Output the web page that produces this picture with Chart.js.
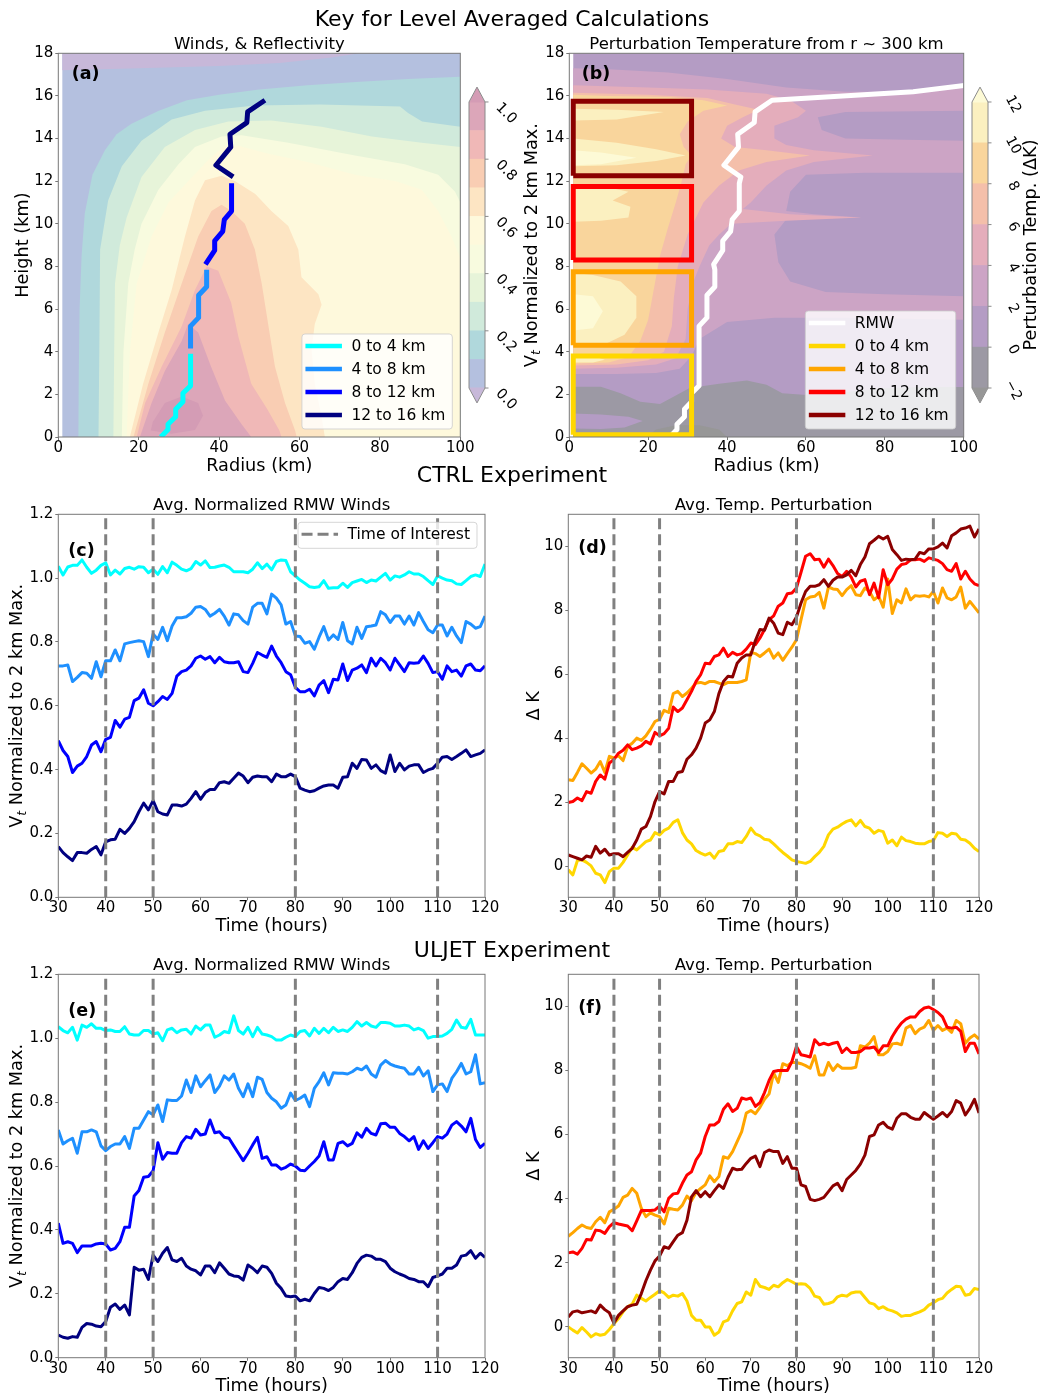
<!DOCTYPE html>
<html>
<head>
<meta charset="utf-8">
<title>Key for Level Averaged Calculations</title>
<script src="https://cdn.jsdelivr.net/npm/chart.js@4.4.1/dist/chart.umd.min.js"></script>
<style>
  html, body { margin: 0; padding: 0; background: #ffffff; }
  body { position: relative; width: 1053px; height: 1397px; overflow: hidden; font-family: "DejaVu Sans", sans-serif; }
  canvas { position: absolute; }
  .heading { position: absolute; left: 0; width: 1024px; text-align: center; font-size: 22px; line-height: 22px; color: #000; white-space: nowrap; z-index: 5; }
</style>
</head>
<body>
<div class="heading" style="top:7.5px">Key for Level Averaged Calculations</div>
<div class="heading" style="top:464px">CTRL Experiment</div>
<div class="heading" style="top:939px">ULJET Experiment</div>
<script>
const FONT = '"DejaVu Sans", sans-serif';

// ---------------- data ----------------
// model hours
const hours = [30,31,32,33,34,35,36,37,38,39,40,41,42,43,44,45,46,47,48,49,
  50,51,52,53,54,55,56,57,58,59,60,61,62,63,64,65,66,67,68,69,
  70,71,72,73,74,75,76,77,78,79,80,81,82,83,84,85,86,87,88,89,
  90,91,92,93,94,95,96,97,98,99,100,101,102,103,104,105,106,107,108,109,
  110,111,112,113,114,115,116,117,118,119,120];

const timesOfInterest = [40, 50, 80, 110];

// CTRL: layer-averaged Vt at the RMW, normalised by the 2 km maximum
const ctrlWind0to4 = [1.037,1.01,1.035,1.04,1.04,1.057,1.034,1.015,1.025,1.04,
  1.048,1.01,1.025,1.013,1.03,1.034,1.028,1.036,1.034,1.017,
  1.028,1.012,1.036,1.017,1.05,1.04,1.028,1.023,1.03,1.052,
  1.041,1.054,1.033,1.034,1.038,1.041,1.034,1.02,1.02,1.02,
  1.017,1.028,1.048,1.03,1.044,1.026,1.052,1.057,1.055,1.02,
  1.007,0.994,0.984,0.973,0.971,0.973,0.992,0.968,0.97,0.97,
  0.984,0.971,0.986,0.991,0.996,0.986,0.994,0.991,1.003,1.015,
  0.994,1.007,1.003,1.01,1.02,1.013,1.013,1.005,0.992,0.98,
  1.007,1.0,0.994,0.992,0.982,0.98,0.992,1.005,1.01,1.005,1.044];
const ctrlWind4to8 = [0.725,0.725,0.728,0.676,0.689,0.704,0.702,0.686,0.738,0.691,
  0.741,0.741,0.775,0.741,0.794,0.798,0.801,0.804,0.801,0.754,
  0.825,0.808,0.846,0.804,0.85,0.876,0.876,0.879,0.89,0.909,
  0.911,0.902,0.881,0.89,0.902,0.881,0.853,0.888,0.885,0.867,
  0.856,0.909,0.921,0.921,0.888,0.95,0.937,0.916,0.856,0.864,
  0.819,0.817,0.796,0.801,0.777,0.815,0.848,0.806,0.822,0.808,
  0.861,0.804,0.794,0.846,0.811,0.848,0.85,0.853,0.895,0.885,
  0.861,0.881,0.881,0.856,0.881,0.853,0.892,0.864,0.838,0.829,
  0.853,0.853,0.819,0.846,0.819,0.798,0.864,0.856,0.843,0.848,0.881];
const ctrlWind8to12 = [0.491,0.46,0.441,0.391,0.411,0.42,0.441,0.477,0.488,0.456,
  0.495,0.501,0.554,0.533,0.558,0.564,0.616,0.624,0.65,0.608,
  0.6,0.613,0.629,0.62,0.639,0.693,0.707,0.712,0.725,0.749,
  0.756,0.746,0.754,0.735,0.752,0.738,0.735,0.735,0.738,0.707,
  0.704,0.733,0.767,0.759,0.752,0.787,0.756,0.735,0.707,0.697,
  0.658,0.644,0.644,0.652,0.631,0.665,0.679,0.641,0.683,0.681,
  0.731,0.679,0.712,0.718,0.728,0.704,0.749,0.725,0.749,0.735,
  0.712,0.749,0.728,0.707,0.735,0.733,0.735,0.756,0.733,0.704,
  0.707,0.683,0.725,0.707,0.712,0.693,0.725,0.731,0.712,0.71,0.725];
const ctrlWind12to16 = [0.159,0.14,0.127,0.115,0.14,0.14,0.138,0.15,0.159,0.133,
  0.174,0.18,0.182,0.213,0.2,0.216,0.237,0.268,0.295,0.274,
  0.303,0.268,0.261,0.258,0.289,0.289,0.286,0.292,0.31,0.331,
  0.307,0.328,0.338,0.338,0.359,0.362,0.357,0.373,0.389,0.38,
  0.359,0.376,0.38,0.378,0.378,0.362,0.386,0.378,0.378,0.386,
  0.378,0.342,0.336,0.331,0.334,0.342,0.349,0.352,0.352,0.342,
  0.376,0.378,0.42,0.404,0.432,0.43,0.404,0.415,0.397,0.389,
  0.446,0.394,0.42,0.399,0.411,0.415,0.415,0.391,0.399,0.404,
  0.42,0.439,0.441,0.432,0.441,0.451,0.462,0.441,0.446,0.451,0.462];

// CTRL: layer-averaged temperature perturbation (K)
const ctrlTemp0to4 = [-0.1,-0.26,0.19,0.21,0.13,0.02,-0.21,-0.26,-0.5,-0.16,
  -0.05,-0.05,0.13,0.36,0.6,0.52,0.65,0.78,0.83,1.06,
  0.99,1.13,1.2,1.38,1.46,1.06,0.83,0.71,0.5,0.42,
  0.36,0.42,0.26,0.47,0.5,0.71,0.71,0.78,0.75,0.94,
  1.2,1.02,0.96,0.85,0.83,0.71,0.57,0.44,0.33,0.21,
  0.16,0.13,0.1,0.16,0.31,0.44,0.63,0.99,1.17,1.23,
  1.33,1.41,1.46,1.27,1.44,1.25,1.2,1.04,1.13,1.09,
  0.73,0.83,0.65,0.92,0.81,0.78,0.73,0.71,0.71,0.78,
  0.81,1.06,1.04,0.94,1.04,1.02,0.85,0.83,0.73,0.57,0.47];
const ctrlTemp4to8 = [2.71,2.69,2.94,3.21,3.07,2.92,3.04,3.28,2.94,3.44,
  3.39,3.46,3.31,3.75,3.85,4.01,3.94,4.08,4.29,4.53,
  4.6,4.88,4.81,5.4,5.47,5.31,5.42,5.57,5.73,5.75,
  5.71,5.78,5.78,5.73,5.68,5.75,5.75,5.75,5.78,5.83,
  6.69,6.65,6.56,6.67,6.79,6.51,6.67,6.44,6.65,6.85,
  7.08,7.71,8.33,8.42,8.44,8.56,8.07,8.73,8.67,8.65,
  8.46,8.65,8.77,8.49,8.46,8.7,8.59,8.33,8.44,8.1,
  8.98,7.9,8.33,8.23,8.67,8.33,8.46,8.44,8.46,8.42,
  8.59,8.23,8.7,8.39,8.33,8.42,8.73,8.07,8.28,8.1,7.92];
const ctrlTemp8to12 = [2.0,2.03,2.14,2.06,2.34,2.29,2.66,2.86,2.73,3.23,
  3.35,3.54,3.63,3.8,3.65,3.7,3.77,3.91,3.83,4.19,
  4.08,4.15,4.32,4.98,4.84,4.95,5.21,5.47,5.78,5.99,
  6.35,6.33,6.56,6.61,6.82,6.56,6.69,6.61,6.65,6.79,
  6.98,6.93,7.14,7.4,7.71,7.83,8.13,8.23,8.52,8.54,
  8.7,9.19,9.69,9.77,9.58,9.6,9.35,9.6,9.4,9.15,
  9.06,9.22,9.04,8.73,8.91,8.96,8.49,8.85,8.39,9.27,
  8.8,8.98,9.29,9.43,9.46,9.58,9.58,9.6,9.53,9.64,
  9.6,9.56,9.46,9.27,9.22,9.46,8.98,9.22,8.98,8.83,8.77];
const ctrlTemp12to16 = [0.36,0.31,0.26,0.21,0.33,0.29,0.63,0.42,0.54,0.36,
  0.4,0.4,0.31,0.44,0.57,0.83,1.17,1.25,1.56,2.03,
  2.34,2.27,2.66,2.66,2.94,2.97,3.35,3.49,3.7,4.01,
  4.48,4.58,4.84,5.4,5.78,5.94,5.92,6.35,6.51,6.61,
  6.61,7.06,7.4,7.38,7.76,7.6,7.29,7.24,7.63,7.55,
  7.79,8.23,8.59,8.75,8.75,8.8,8.96,8.75,8.94,9.04,
  9.04,9.11,9.25,9.08,9.43,9.67,10.08,10.19,10.31,10.23,
  10.31,9.9,9.74,9.56,9.6,9.58,9.6,9.81,9.77,9.92,
  9.92,9.98,10.1,9.95,10.33,10.42,10.54,10.57,10.63,10.29,10.54];

// ULJET: layer-averaged Vt at the RMW, normalised by the 2 km maximum
const uljetWind0to4 = [1.036,1.024,1.017,1.034,0.994,1.041,1.034,1.045,1.031,1.031,
  1.024,1.026,1.021,1.021,1.036,1.013,1.01,1.01,1.024,1.024,
  1.013,1.017,0.992,1.026,1.031,1.017,1.026,1.028,1.013,1.038,
  1.026,1.041,1.041,1.003,1.01,1.021,1.017,1.07,1.024,1.013,
  1.034,1.005,1.034,1.013,1.01,1.005,0.994,0.994,1.003,1.01,
  1.005,1.021,1.024,1.007,1.031,1.015,1.031,1.017,1.034,1.021,
  1.026,1.021,1.034,1.052,1.038,1.049,1.038,1.034,1.049,1.049,
  1.047,1.038,1.038,1.041,1.038,1.026,1.031,1.024,1.0,1.005,
  1.005,1.007,1.015,1.028,1.057,1.034,1.031,1.059,1.01,1.01,1.01];
const uljetWind4to8 = [0.713,0.669,0.679,0.687,0.64,0.707,0.707,0.713,0.707,0.663,
  0.648,0.661,0.669,0.669,0.692,0.655,0.718,0.718,0.744,0.77,
  0.76,0.791,0.739,0.807,0.805,0.805,0.819,0.869,0.83,0.882,
  0.848,0.867,0.885,0.83,0.85,0.882,0.869,0.888,0.843,0.817,
  0.857,0.817,0.878,0.871,0.83,0.812,0.801,0.781,0.791,0.828,
  0.805,0.812,0.822,0.786,0.843,0.864,0.892,0.854,0.892,0.89,
  0.89,0.888,0.895,0.906,0.901,0.913,0.888,0.878,0.916,0.93,
  0.919,0.913,0.909,0.906,0.888,0.888,0.909,0.882,0.898,0.833,
  0.854,0.857,0.833,0.874,0.895,0.921,0.888,0.895,0.948,0.857,0.861];
const uljetWind8to12 = [0.421,0.358,0.363,0.358,0.329,0.35,0.35,0.35,0.356,0.358,
  0.356,0.337,0.342,0.363,0.408,0.408,0.506,0.523,0.565,0.567,
  0.585,0.673,0.621,0.642,0.64,0.64,0.673,0.692,0.687,0.715,
  0.697,0.7,0.744,0.704,0.707,0.69,0.687,0.663,0.64,0.617,
  0.64,0.666,0.69,0.624,0.629,0.603,0.603,0.59,0.596,0.606,
  0.6,0.587,0.585,0.6,0.614,0.631,0.676,0.619,0.619,0.671,
  0.676,0.663,0.671,0.704,0.69,0.718,0.702,0.697,0.732,0.734,
  0.721,0.721,0.702,0.692,0.679,0.692,0.652,0.679,0.655,0.673,
  0.692,0.687,0.7,0.728,0.739,0.725,0.707,0.749,0.683,0.658,0.671];
const uljetWind12to16 = [0.071,0.064,0.061,0.066,0.064,0.095,0.107,0.105,0.099,0.097,
  0.113,0.158,0.168,0.151,0.165,0.134,0.283,0.274,0.277,0.245,
  0.321,0.301,0.327,0.345,0.306,0.301,0.311,0.287,0.277,0.272,
  0.259,0.287,0.287,0.266,0.297,0.28,0.262,0.256,0.254,0.243,
  0.29,0.28,0.266,0.287,0.283,0.264,0.233,0.217,0.193,0.191,
  0.193,0.178,0.183,0.178,0.201,0.22,0.217,0.21,0.22,0.238,
  0.248,0.245,0.266,0.295,0.314,0.321,0.318,0.308,0.308,0.301,
  0.28,0.269,0.262,0.256,0.248,0.245,0.238,0.238,0.222,0.251,
  0.256,0.262,0.28,0.28,0.29,0.318,0.321,0.335,0.311,0.327,0.314];

// ULJET: layer-averaged temperature perturbation (K)
const uljetTemp0to4 = [0.0,-0.1,-0.19,-0.02,-0.16,-0.31,-0.21,-0.26,-0.23,-0.08,
  0.1,0.26,0.47,0.63,0.71,0.99,0.89,0.81,0.92,1.02,
  1.13,1.06,0.92,0.99,0.96,1.04,0.81,0.36,0.21,0.21,
  0.0,0.0,-0.26,-0.16,0.16,0.21,0.5,0.73,0.78,1.09,
  0.99,1.48,1.27,1.23,1.17,1.3,1.25,1.38,1.48,1.41,
  1.33,1.35,1.33,1.2,0.96,0.92,0.71,0.73,0.78,0.94,
  0.99,0.96,1.06,1.09,1.09,0.92,0.75,0.71,0.57,0.63,
  0.54,0.5,0.44,0.33,0.36,0.36,0.42,0.47,0.54,0.68,
  0.75,0.85,0.89,1.06,1.17,1.27,1.25,0.99,1.02,1.2,1.17];
const uljetTemp4to8 = [2.83,2.94,3.07,3.18,3.1,3.07,3.28,3.42,3.25,3.59,
  3.67,3.77,4.04,4.11,4.32,4.17,3.7,3.44,3.56,3.49,
  3.44,3.21,3.7,3.67,3.65,3.8,4.08,3.94,4.19,4.32,
  4.43,4.71,4.53,4.69,5.31,5.26,5.47,5.78,6.09,6.67,
  6.75,6.65,6.85,7.1,7.27,7.92,7.63,8.21,8.15,8.25,
  8.25,8.21,8.15,8.07,8.46,7.86,7.86,8.25,8.0,8.18,
  8.07,8.07,8.07,8.1,8.77,8.73,8.85,9.06,8.49,8.49,
  8.59,8.83,8.85,8.8,9.32,9.4,9.15,9.29,9.35,9.56,
  9.25,9.4,9.25,9.32,9.19,9.56,9.46,8.85,9.01,9.11,8.98];
const uljetTemp8to12 = [2.31,2.34,2.27,2.45,2.73,2.71,3.02,3.0,2.92,3.13,
  3.25,3.21,3.18,3.15,3.0,3.31,3.63,3.63,3.63,3.65,
  3.77,3.59,4.01,4.15,4.17,4.48,4.74,4.84,5.21,5.42,
  5.94,6.3,6.3,6.41,6.79,6.96,6.72,6.82,7.14,7.1,
  7.14,6.88,7.0,7.31,7.69,7.97,8.0,8.0,8.0,8.28,
  8.75,8.49,8.46,8.42,8.96,8.8,8.85,8.8,8.85,8.88,
  8.56,8.7,8.56,8.56,8.59,8.7,8.7,8.73,8.56,8.77,
  8.77,9.06,9.29,9.48,9.6,9.67,9.67,9.84,9.95,9.98,
  9.9,9.81,9.67,9.35,9.32,9.35,9.22,8.59,8.85,8.85,8.52];
const uljetTemp12to16 = [0.31,0.47,0.5,0.44,0.47,0.5,0.44,0.68,0.54,0.44,
  0.12,0.36,0.5,0.63,0.68,0.71,1.04,1.44,1.77,2.06,
  2.21,2.5,2.45,2.66,2.86,2.94,3.33,4.06,4.25,4.06,
  4.22,4.06,4.25,4.43,4.32,4.67,4.95,4.9,4.92,5.1,
  5.26,5.33,5.0,5.44,5.52,5.47,5.47,5.1,5.31,4.95,
  4.95,4.43,4.38,3.98,3.94,3.98,4.04,4.22,4.4,4.48,
  4.25,4.6,4.74,4.88,5.08,5.36,5.94,5.99,6.3,6.38,
  6.23,6.17,6.51,6.65,6.65,6.54,6.48,6.48,6.69,6.58,
  6.48,6.58,6.69,6.56,6.72,7.06,6.98,6.61,6.82,7.1,6.67];

// averaging layers
const layerNames = ['0 to 4 km', '4 to 8 km', '8 to 12 km', '12 to 16 km'];
const layerBottom = [0, 4, 8, 12];
const layerTop = [4, 8, 12, 16];

// radius of maximum wind (km) against height (km)
const rmwRadius = [25.5,27.3,27.3,29.2,29.2,31,31,32.9,32.9,
  32.9,32.9,34.9,34.9,36.9,36.9,
  36.6,38.9,38.9,40.9,41.3,43.1,43.1,
  43.5,39.2,42.9,42.7,46.9,47.1,51.4,
  87.2,105];
const rmwHeight = [0,0.35,0.6,0.95,1.3,1.65,2.05,2.4,3.9,
  4.15,5.2,5.6,6.65,7.05,7.85,
  8.1,8.75,9.2,9.65,10.2,10.6,11.9,
  12.2,12.75,13.6,14.2,14.75,15.25,15.8,
  16.2,16.6];

// inner-core averaging boxes for the temperature cross-section
const boxRadius = [1, 31];
const boxBottom = [0.1, 4.3, 8.3, 12.25];
const boxTop = [3.8, 7.75, 11.75, 15.75];

// contour levels and colour bar ticks
const windLevels = [0, 0.1, 0.2, 0.3, 0.4, 0.5, 0.6, 0.7, 0.8, 0.9, 1.0];
const windTicks = [0, 0.2, 0.4, 0.6, 0.8, 1.0];
const windTickLabels = ['0.0', '0.2', '0.4', '0.6', '0.8', '1.0'];
const tempLevels = [-2, 0, 2, 4, 6, 8, 10, 12];
const tempTicks = [-2, 0, 2, 4, 6, 8, 10, 12];
const tempTickLabels = ['\u22122', '0', '2', '4', '6', '8', '10', '12'];

// normalised wind / reflectivity field: outline of each filled level (radius km, height km)
const fieldBox = [[1,0],[100,0],[100,18],[1,18]];
const windBelow0 = [[1,18],[1,17.2],[20,17.3],[40,17.4],[55,17.55],[68,17.8],[75,18]];
const windAbove01 = [[5,0],[5.1,3],[5.3,6],[5.8,8.5],[6.6,10.5],[8.5,12.3],[11.6,13.45],[14.5,14.2],[18.2,14.7],[25,15.3],[32,15.8],[40,16.05],[50,16.3],[62,16.5],[74,16.65],[87,16.8],[100,16.9],[100,0]];
const windAbove02 = [[10,0],[10.2,4],[10.4,8.8],[12.4,11.1],[15.8,12.7],[20.7,13.9],[28.2,14.9],[36.5,15.3],[49,15.55],[65,15.6],[85,15.5],[87,15.2],[90.5,14.8],[100,14.55],[100,0]];
const windAbove03 = [[13.7,0],[13.9,4],[14.1,7.2],[15.3,9],[17,10.3],[20.7,12.2],[26.5,13.6],[34,14.4],[42.3,14.8],[53,14.85],[65.5,14.55],[78,14.1],[90.4,13.8],[100,13.6],[100,0]];
const windAbove04 = [[15.8,0],[16.2,4],[17.4,7.2],[19,8.8],[20.7,10],[24.9,11.6],[29.9,12.8],[34,13.6],[40.6,14.1],[45.6,14.15],[57.2,13.8],[73.8,13.2],[86.2,12.8],[94.5,12.3],[98.7,11.5],[100,11.0],[100,0]];
const windAbove05 = [[17,0],[17.8,4],[19.5,7.2],[23.2,9.4],[27.4,11],[32.3,12.0],[37.3,13.0],[41,13.6],[45,13.65],[52,13.3],[62,12.9],[73.8,12.3],[84,12.0],[90.4,11.6],[94.5,10.6],[97.8,9.4],[100,8.4],[100,0]];
const windAbove06 = [[17.8,0],[21.1,2.5],[24.9,4.9],[28.2,6.9],[31.5,9.4],[34,11.1],[36.5,12.05],[40.6,12.25],[44,12.0],[49,11.4],[53,10.6],[57.2,9.9],[59.7,8.8],[60.5,7.5],[64.7,6.7],[65.5,6.2],[63.8,5.3],[63,4.1],[63.8,2.5],[65.5,0.95],[66.3,0]];
const windAbove07 = [[18.7,0],[22.4,2.5],[26.5,4.9],[30.7,7.2],[34.8,9.4],[38.1,10.6],[40.6,10.9],[43.1,10.6],[46.4,10],[48.9,8.8],[50.6,7.2],[52.2,5.3],[53.9,3.3],[56.4,1.6],[58.9,0.3],[59.3,0]];
const windAbove08 = [[19.5,0],[21.6,1.6],[25.7,3.3],[30.7,5.2],[34,6.9],[36.9,8.0],[39.8,7.8],[43,6.3],[44.8,4.7],[48,2.5],[52,1.3],[55,0.3],[55.5,0]];
const windAbove09 = [[20.3,0],[23.2,1.6],[26.5,3.1],[30.7,4.5],[32.3,5.3],[34.8,4.9],[38,3.3],[41.5,1.7],[45.6,0.6],[48,0]];
const windAbove10 = [[23,0.3],[23.5,0.7],[26.5,1.6],[30.7,1.9],[34.8,1.6],[36,1.0],[34,0.33],[28.2,0.15]];

// perturbation temperature field: outline of each filled level (radius km, height km)
const tempBelow0 = [[1,0],[1,2.36],[8,2.36],[13,2.05],[18,1.65],[23,1.55],[27,1.95],[30.5,2.3],[38,2.5],[45,2.65],[50,2.45],[54,2.05],[62,1.95],[72,2.15],[80,2.3],[90,2.35],[100,2.35],[100,0]];
const tempBelowM2 = [[19.6,0],[22,0.35],[27,0.55],[33,0.55],[38,0.35],[40,0]];
const tempShallowWarm = [[1,0.4],[8,0.38],[14,0.45],[18.6,0.75],[15,0.95],[8,1.05],[1,1.1]];
const tempAbove2 = [[1,2.95],[12,2.95],[22,3.0],[28,3.2],[31,3.8],[33,4.6],[40,5.4],[52,5.6],[70,5.6],[100,5.5],[100,6.6],[80,6.7],[65,6.8],[56,7.3],[53,8.2],[52,9.5],[55,10.2],[62,10.25],[74,10.3],[62,10.45],[55,10.6],[56,11.5],[60,12.3],[75,12.4],[100,12.4],[100,13.9],[85,13.95],[70,14.0],[64,14.4],[63,15.0],[70,15.25],[100,15.3],[100,16.5],[87,16.2],[70,16.2],[55,16.4],[40,16.8],[25,17.1],[10,17.25],[1,17.3]];
const tempAbove4 = [[1,3.2],[12,3.25],[22,3.4],[27,3.7],[29.5,4.6],[30,6],[31.5,7.3],[33,8],[35.5,9],[38,9.5],[41,10.0],[55,10.15],[74,10.3],[56,10.45],[44,10.7],[46,11],[50,11.8],[55,12.5],[62,12.9],[77,13.2],[62,13.45],[55,13.7],[52,14.0],[52,14.6],[58,15.0],[60,15.3],[56,15.8],[50,16.1],[35,16.3],[20,16.4],[1,16.5]];
const tempAbove6 = [[1,3.35],[12,3.4],[20,3.6],[24,4.0],[26,5.2],[26.5,6.5],[27.5,8],[30,9.5],[34,11],[38,11.8],[43,12.5],[50,12.9],[61,13.2],[50,13.45],[42,13.6],[38.5,14.0],[40,14.6],[44,15.0],[48,15.35],[42,15.6],[35,15.9],[20,16.05],[1,16.15]];
const tempAbove8 = [[1,3.45],[10,3.5],[15,3.75],[18,4.5],[20,5.5],[21.5,7],[23,8.5],[25,9.8],[27,11],[28.5,12],[29.5,12.8],[31,13.2],[29,13.6],[28,14.2],[30,14.8],[34,15.3],[40,15.55],[34,15.8],[25,15.95],[10,16.0],[1,16.05]];
const tempAbove10Low = [[1,3.5],[6,3.5],[9,3.62],[6,3.8],[1,3.85]];
const tempAbove10Mid = [[1,4.3],[9,4.35],[14,4.8],[17,5.6],[17,6.6],[13,7.3],[6,7.6],[1,7.7]];
const tempAbove10Upper = [[1,10.1],[8,10.15],[15,10.3],[15.5,10.8],[11,11.1],[15,11.5],[10,11.7],[1,11.8]];
const tempAbove10High = [[1,12.7],[12,12.75],[22,12.95],[29.5,13.2],[22,13.5],[12,13.8],[1,14.0]];
const tempAbove10Top = [[1,14.85],[12,14.9],[24,15.25],[12,15.35],[1,15.4]];
const tempAbove12High = [[1,12.75],[8,12.8],[17,13.1],[8,13.35],[1,13.45]];
const tempAbove12Mid = [[1,5.0],[6,5.1],[8.5,5.9],[6,6.6],[1,6.7]];

// ---------------- styles ----------------
const WIND_COLORS = ['#00ffff', '#1e90ff', '#0000ff', '#000080'];
const TEMP_COLORS = ['#ffd700', '#ffa500', '#ff0000', '#8b0000'];
const WIND_FILL = ['#b4c0df','#b0d8dc','#d0eadb','#e7f4d9','#f8fbdf','#fef9dc','#fde5c3','#f9cdb3','#f0b8b7','#dca6b9'];
const WIND_UNDER = '#c7b8d9', WIND_OVER = '#d49cb5';
const TEMP_FILL = ['#9c99a4','#b49cc4','#cca4c5','#e4adbb','#f4bfaa','#f9d59c','#fbf0c0'];
const TEMP_UNDER = '#979797', TEMP_OVER = '#fdfad6';
const MARK_COLOR = '#808080';
const AXIS_COLOR = '#777777';

// ---------------- plugins ----------------
function contourPlugin(layers) {
  return {
    id: 'contourFill',
    beforeDatasetsDraw(chart) {
      const ctx = chart.ctx, a = chart.chartArea, xs = chart.scales.x, ys = chart.scales.y;
      ctx.save();
      ctx.beginPath(); ctx.rect(a.left, a.top, a.right - a.left, a.bottom - a.top); ctx.clip();
      layers.forEach(layer => {
        ctx.fillStyle = layer.color;
        layer.shapes.forEach(shape => {
          ctx.beginPath();
          shape.forEach(([r, z], i) => {
            const px = xs.getPixelForValue(r), py = ys.getPixelForValue(z);
            if (i) ctx.lineTo(px, py); else ctx.moveTo(px, py);
          });
          ctx.closePath(); ctx.fill();
        });
      });
      ctx.restore();
    }
  };
}

function drawLegend(ctx, a, L) {
  ctx.font = '15.5px ' + FONT;
  const tw = Math.max(...L.items.map(it => ctx.measureText(it.label).width));
  const w = 49.5 + tw + 7, h = L.items.length * 23 + 3;
  const x0 = a.right - 8 - w, y0 = L.upper ? a.top + 8 : a.bottom - 8 - h;
  ctx.beginPath(); ctx.roundRect(x0, y0, w, h, 3);
  ctx.fillStyle = 'rgba(255,255,255,0.8)'; ctx.fill();
  ctx.strokeStyle = 'rgba(204,204,204,0.8)'; ctx.lineWidth = 1; ctx.stroke();
  L.items.forEach((it, i) => {
    const y = y0 + 12 + i * 23;
    ctx.save();
    ctx.strokeStyle = it.color; ctx.lineWidth = it.width; ctx.lineCap = 'butt';
    ctx.setLineDash(it.dash || []);
    ctx.beginPath(); ctx.moveTo(x0 + 3.5, y); ctx.lineTo(x0 + 40, y); ctx.stroke();
    ctx.restore();
    ctx.fillStyle = '#000'; ctx.textAlign = 'left'; ctx.textBaseline = 'middle';
    ctx.fillText(it.label, x0 + 49.5, y + 0.5);
  });
}

function decorPlugin(o) {
  return {
    id: 'decor',
    afterDraw(chart) {
      const ctx = chart.ctx, a = chart.chartArea;
      const cx = (a.left + a.right) / 2, cy = (a.top + a.bottom) / 2;
      ctx.save();
      ctx.strokeStyle = AXIS_COLOR; ctx.lineWidth = 1;
      ctx.strokeRect(a.left, a.top, a.right - a.left, a.bottom - a.top);
      ctx.fillStyle = '#000'; ctx.textBaseline = 'alphabetic';
      if (o.title) { ctx.font = '16.5px ' + FONT; ctx.textAlign = 'center'; ctx.fillText(o.title, cx, a.top - 4); }
      if (o.xlabel) { ctx.font = '17.7px ' + FONT; ctx.textAlign = 'center'; ctx.fillText(o.xlabel, cx, a.bottom + 33.7); }
      if (o.ylabel) {
        ctx.save();
        ctx.translate(a.left - o.ylabelGap, cy); ctx.rotate(-Math.PI / 2);
        ctx.textAlign = 'left'; ctx.textBaseline = 'middle';
        const fontOf = p => p.sub ? 'italic 12.5px ' + FONT : '17.7px ' + FONT;
        let total = 0;
        o.ylabel.forEach(p => { ctx.font = fontOf(p); total += ctx.measureText(p.text).width; });
        let x = -total / 2;
        o.ylabel.forEach(p => { ctx.font = fontOf(p); ctx.fillText(p.text, x, p.sub ? 5 : 0); x += ctx.measureText(p.text).width; });
        ctx.restore();
      }
      if (o.letter) {
        ctx.font = 'bold 17.5px ' + FONT; ctx.textAlign = 'left'; ctx.textBaseline = 'alphabetic';
        ctx.fillText(o.letter, a.left + o.letterDx, a.top + o.letterDy);
      }
      if (o.legend) drawLegend(ctx, a, o.legend);
      ctx.restore();
    }
  };
}

function colorbarPlugin(cb) {
  return {
    id: 'colorbarDecor',
    afterDatasetsDraw(chart) {
      const ctx = chart.ctx, ys = chart.scales.y, a = chart.chartArea;
      const l = a.left, r = a.right, mid = (l + r) / 2;
      const yLo = ys.getPixelForValue(cb.levels[0]);
      const yHi = ys.getPixelForValue(cb.levels[cb.levels.length - 1]);
      const yMin = ys.getPixelForValue(ys.min), yMax = ys.getPixelForValue(ys.max);
      ctx.save();
      ctx.fillStyle = cb.over;
      ctx.beginPath(); ctx.moveTo(l, yHi + 0.5); ctx.lineTo(mid, yMax); ctx.lineTo(r, yHi + 0.5); ctx.closePath(); ctx.fill();
      ctx.fillStyle = cb.under;
      ctx.beginPath(); ctx.moveTo(l, yLo - 0.5); ctx.lineTo(mid, yMin); ctx.lineTo(r, yLo - 0.5); ctx.closePath(); ctx.fill();
      ctx.strokeStyle = '#8a8a8a'; ctx.lineWidth = 1;
      ctx.beginPath();
      ctx.moveTo(l, yLo); ctx.lineTo(mid, yMin); ctx.lineTo(r, yLo); ctx.lineTo(r, yHi);
      ctx.lineTo(mid, yMax); ctx.lineTo(l, yHi); ctx.closePath(); ctx.stroke();
      ctx.fillStyle = '#000'; ctx.font = cb.labelSize + 'px ' + FONT;
      ctx.textAlign = 'center'; ctx.textBaseline = 'middle';
      cb.ticks.forEach((v, i) => {
        const y = ys.getPixelForValue(v);
        ctx.beginPath(); ctx.moveTo(r, y); ctx.lineTo(r + 3.5, y); ctx.stroke();
        ctx.save(); ctx.translate(r + cb.labelDx, y + cb.labelDy); ctx.rotate(cb.labelAngle * Math.PI / 180);
        ctx.fillText(cb.tickLabels[i], 0, 0); ctx.restore();
      });
      if (cb.title) {
        ctx.save(); ctx.translate(r + cb.titleDx, (yLo + yHi) / 2); ctx.rotate(-Math.PI / 2);
        ctx.font = '17.7px ' + FONT; ctx.textAlign = 'center'; ctx.textBaseline = 'middle';
        ctx.fillText(cb.title, 0, 0); ctx.restore();
      }
      ctx.restore();
    }
  };
}

// ---------------- builders ----------------
function addCanvas(id, left, top, w, h) {
  const c = document.createElement('canvas');
  c.id = id; c.width = w; c.height = h;
  c.style.left = left + 'px'; c.style.top = top + 'px';
  c.style.width = w + 'px'; c.style.height = h + 'px';
  document.body.appendChild(c);
  return c;
}

function axisOptions(ax, fit, pad) {
  return {
    type: 'linear', min: ax.min, max: ax.max, afterFit: fit,
    grid: { display: true, drawOnChartArea: false, drawTicks: true, tickLength: 3, color: AXIS_COLOR, lineWidth: 1 },
    border: { display: false },
    ticks: {
      stepSize: ax.step, includeBounds: false, autoSkip: false, maxRotation: 0, minRotation: 0,
      padding: pad, color: '#000', font: { family: FONT, size: 15 },
      callback: v => ax.digits ? Number(v).toFixed(ax.digits) : String(v)
    }
  };
}

function makePanel(id, f, spec) {
  const canvas = addCanvas(id, f.cl, f.ct, f.cw, f.ch);
  const yW = f.l - f.cl, padT = f.t - f.ct, padR = f.cl + f.cw - f.r, xH = f.ct + f.ch - f.b;
  spec.datasets.forEach((d, i) => {
    d.order = -i; d.clip = 0; d.pointRadius = 0; d.fill = false;
    d.tension = 0; d.spanGaps = false;
    if (!d.borderJoinStyle) d.borderJoinStyle = 'round';
    d.borderCapStyle = 'butt';
  });
  return new Chart(canvas, {
    type: 'line',
    data: { datasets: spec.datasets },
    options: {
      responsive: false, animation: false, devicePixelRatio: 1, events: [],
      layout: { padding: { left: 0, top: padT, right: padR, bottom: 0 }, autoPadding: false },
      plugins: { legend: { display: false }, tooltip: { enabled: false } },
      scales: {
        x: axisOptions(spec.x, s => { s.height = xH; }, -1),
        y: axisOptions(spec.y, s => { s.width = yW; }, 2)
      }
    },
    plugins: [contourPlugin(spec.layers || []), decorPlugin(spec.decor)]
  });
}

function makeColorbar(id, f, cb) {
  const canvas = addCanvas(id, f.cl, f.ct, f.cw, f.ch);
  const datasets = cb.levels.slice(0, -1).map((lo, i) => ({
    data: [[lo, cb.levels[i + 1]]], backgroundColor: cb.colors[i], borderWidth: 0,
    barPercentage: 1, categoryPercentage: 1, grouped: false
  }));
  return new Chart(canvas, {
    type: 'bar',
    data: { labels: ['bar'], datasets },
    options: {
      responsive: false, animation: false, devicePixelRatio: 1, events: [],
      layout: { padding: { left: f.l - f.cl, top: f.t - f.ct, right: f.cl + f.cw - f.r, bottom: f.ct + f.ch - f.b }, autoPadding: false },
      plugins: { legend: { display: false }, tooltip: { enabled: false } },
      scales: { x: { display: false }, y: { display: false, min: cb.min, max: cb.max } }
    },
    plugins: [colorbarPlugin(cb)]
  });
}

const series = (values, color) => ({ data: hours.map((h, i) => ({ x: h, y: values[i] })), borderColor: color, borderWidth: 3 });

function markerLines(lo, hi) {
  const pts = [];
  timesOfInterest.forEach(t => { pts.push({ x: t, y: lo }, { x: t, y: hi }, { x: t, y: null }); });
  return { data: pts, borderColor: MARK_COLOR, borderWidth: 3, borderDash: [11, 5] };
}

const vtLabel = [{ text: 'V' }, { text: 't', sub: true }, { text: ' Normalized to 2 km Max.' }];
const layerLegend = colors => layerNames.map((name, k) => ({ label: name, color: colors[k], width: 4.5 }));

// ---------------- (a) winds & reflectivity ----------------
const rmwPoints = rmwRadius.map((r, i) => ({ x: r, y: rmwHeight[i] }));
const rmwLayer = k => rmwPoints.filter(p => p.y >= layerBottom[k] && p.y < layerTop[k]);

makePanel('panelA', { l: 58.3, t: 53.3, r: 460.3, b: 437, cl: 0, ct: 30, cw: 500, ch: 450 }, {
  x: { min: 0, max: 100, step: 20 }, y: { min: 0, max: 18, step: 2 },
  layers: [
    { color: WIND_FILL[0], shapes: [fieldBox] },
    { color: WIND_UNDER, shapes: [windBelow0] },
    { color: WIND_FILL[1], shapes: [windAbove01] },
    { color: WIND_FILL[2], shapes: [windAbove02] },
    { color: WIND_FILL[3], shapes: [windAbove03] },
    { color: WIND_FILL[4], shapes: [windAbove04] },
    { color: WIND_FILL[5], shapes: [windAbove05] },
    { color: WIND_FILL[6], shapes: [windAbove06] },
    { color: WIND_FILL[7], shapes: [windAbove07] },
    { color: WIND_FILL[8], shapes: [windAbove08] },
    { color: WIND_FILL[9], shapes: [windAbove09] },
    { color: WIND_OVER, shapes: [windAbove10] }
  ],
  datasets: [0, 1, 2, 3].map(k => ({ data: rmwLayer(k), borderColor: WIND_COLORS[k], borderWidth: 5 })),
  decor: {
    title: 'Winds, & Reflectivity', xlabel: 'Radius (km)',
    ylabel: [{ text: 'Height (km)' }], ylabelGap: 34.8,
    letter: '(a)', letterDx: 13.4, letterDy: 26,
    legend: { items: layerLegend(WIND_COLORS) }
  }
});

makeColorbar('barA', { l: 469, r: 485, t: 87.1, b: 402.9, cl: 462, ct: 70, cw: 70, ch: 350 }, {
  levels: windLevels, colors: WIND_FILL, under: WIND_UNDER, over: WIND_OVER,
  min: -0.052, max: 1.052, ticks: windTicks, tickLabels: windTickLabels,
  labelSize: 14.5, labelAngle: 45, labelDx: 21, labelDy: 11.5
});

// ---------------- (b) perturbation temperature ----------------
const boxOutline = k => [
  { x: boxRadius[0], y: boxBottom[k] }, { x: boxRadius[1], y: boxBottom[k] },
  { x: boxRadius[1], y: boxTop[k] }, { x: boxRadius[0], y: boxTop[k] }, { x: boxRadius[0], y: boxBottom[k] }
];

makePanel('panelB', { l: 569.3, t: 53.3, r: 963.7, b: 437, cl: 510, ct: 30, cw: 470, ch: 450 }, {
  x: { min: 0, max: 100, step: 20 }, y: { min: 0, max: 18, step: 2 },
  layers: [
    { color: TEMP_FILL[1], shapes: [fieldBox] },
    { color: TEMP_FILL[0], shapes: [tempBelow0] },
    { color: TEMP_UNDER, shapes: [tempBelowM2] },
    { color: TEMP_FILL[1], shapes: [tempShallowWarm] },
    { color: TEMP_FILL[2], shapes: [tempAbove2] },
    { color: TEMP_FILL[3], shapes: [tempAbove4] },
    { color: TEMP_FILL[4], shapes: [tempAbove6] },
    { color: TEMP_FILL[5], shapes: [tempAbove8] },
    { color: TEMP_FILL[6], shapes: [tempAbove10Low, tempAbove10Mid, tempAbove10Upper, tempAbove10High, tempAbove10Top] },
    { color: TEMP_OVER, shapes: [tempAbove12High, tempAbove12Mid] }
  ],
  datasets: [
    { data: rmwPoints, borderColor: '#ffffff', borderWidth: 5 },
    ...[0, 1, 2, 3].map(k => ({ data: boxOutline(k), borderColor: TEMP_COLORS[k], borderWidth: 5, borderJoinStyle: 'miter' }))
  ],
  decor: {
    title: 'Perturbation Temperature from r ~ 300 km', xlabel: 'Radius (km)',
    ylabel: vtLabel, ylabelGap: 37.3,
    letter: '(b)', letterDx: 12.4, letterDy: 26,
    legend: { items: [{ label: 'RMW', color: '#ffffff', width: 4.5 }, ...layerLegend(TEMP_COLORS)] }
  }
});

makeColorbar('barB', { l: 972, r: 988, t: 87.1, b: 402.9, cl: 966, ct: 70, cw: 87, ch: 350 }, {
  levels: tempLevels, colors: TEMP_FILL, under: TEMP_UNDER, over: TEMP_OVER,
  min: -2.729, max: 12.729, ticks: tempTicks, tickLabels: tempTickLabels,
  labelSize: 14, labelAngle: 62, labelDx: 25, labelDy: 2.5,
  title: 'Perturbation Temp. (\u0394K)', titleDx: 43.5
});

// ---------------- (c)-(f) time series ----------------
const windAxis = { min: 0, max: 1.2, step: 0.2, digits: 1 };
const tempAxis = { min: -0.96, max: 11.0, step: 2 };
const timeAxis = { min: 30, max: 120, step: 10 };

function windPanel(id, frame, letter, values, withLegend) {
  makePanel(id, frame, {
    x: timeAxis, y: windAxis,
    datasets: [...values.map((v, k) => series(v, WIND_COLORS[k])), markerLines(windAxis.min, windAxis.max)],
    decor: {
      title: 'Avg. Normalized RMW Winds', xlabel: 'Time (hours)',
      ylabel: vtLabel, ylabelGap: 40.8, letter, letterDx: 10, letterDy: 41.7,
      legend: withLegend ? { upper: true, items: [{ label: 'Time of Interest', color: MARK_COLOR, width: 3, dash: [11, 5] }] } : null
    }
  });
}
function tempPanel(id, frame, letter, values) {
  makePanel(id, frame, {
    x: timeAxis, y: tempAxis,
    datasets: [...values.map((v, k) => series(v, TEMP_COLORS[k])), markerLines(tempAxis.min, tempAxis.max)],
    decor: {
      title: 'Avg. Temp. Perturbation', xlabel: 'Time (hours)',
      ylabel: [{ text: '\u0394 K' }], ylabelGap: 34.3, letter, letterDx: 10, letterDy: 38.4
    }
  });
}

windPanel('panelC', { l: 58.3, t: 514.3, r: 485, b: 897.3, cl: 0, ct: 490, cw: 505, ch: 450 }, '(c)',
  [ctrlWind0to4, ctrlWind4to8, ctrlWind8to12, ctrlWind12to16], true);
tempPanel('panelD', { l: 568.3, t: 514.3, r: 979, b: 897.3, cl: 510, ct: 490, cw: 543, ch: 450 }, '(d)',
  [ctrlTemp0to4, ctrlTemp4to8, ctrlTemp8to12, ctrlTemp12to16]);
windPanel('panelE', { l: 58.3, t: 974.3, r: 485, b: 1357.7, cl: 0, ct: 950, cw: 505, ch: 447 }, '(e)',
  [uljetWind0to4, uljetWind4to8, uljetWind8to12, uljetWind12to16], false);
tempPanel('panelF', { l: 568.3, t: 974.3, r: 979, b: 1357.7, cl: 510, ct: 950, cw: 543, ch: 447 }, '(f)',
  [uljetTemp0to4, uljetTemp4to8, uljetTemp8to12, uljetTemp12to16]);
</script>
</body>
</html>
